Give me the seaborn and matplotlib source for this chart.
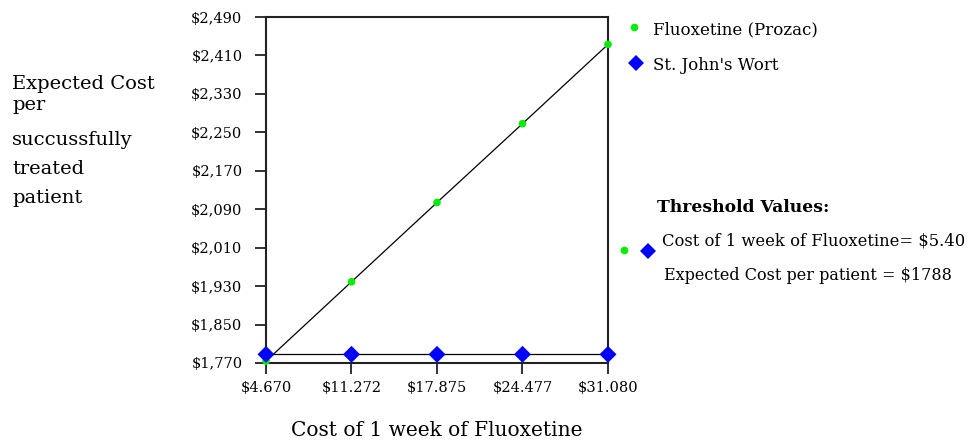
import matplotlib
matplotlib.use("Agg")
import matplotlib.pyplot as plt
import seaborn as sns
import pandas as pd
from matplotlib.lines import Line2D

# Data
cost_week = [4.670, 11.272, 17.875, 24.477, 31.080]
x_tick_labels = ["$4.670", "$11.272", "$17.875", "$24.477", "$31.080"]
fluoxetine_cost = [1774, 1939, 2104, 2268, 2433]
sjw_cost = [1788, 1788, 1788, 1788, 1788]
y_ticks = [1770, 1850, 1930, 2010, 2090, 2170, 2250, 2330, 2410, 2490]
y_tick_labels = ["$1,770", "$1,850", "$1,930", "$2,010", "$2,090", "$2,170",
                 "$2,250", "$2,330", "$2,410", "$2,490"]
series_names = ["Fluoxetine (Prozac)", "St. John's Wort"]

df = pd.DataFrame({
    "x": cost_week * 2,
    "y": fluoxetine_cost + sjw_cost,
    "series": [series_names[0]] * 5 + [series_names[1]] * 5,
})

sns.set_theme(style="white")
plt.rcParams["font.family"] = ["DejaVu Serif"]
plt.rcParams["text.color"] = "black"
plt.rcParams["xtick.color"] = "black"
plt.rcParams["ytick.color"] = "black"

W, H = 979, 441
fig = plt.figure(figsize=(W / 100, H / 100), dpi=100)
ax = fig.add_axes([266 / W, 1 - 363 / H, (608 - 266) / W, (363 - 17) / H])

green = "#00ee00"
blue = "#0000ff"

for name in series_names:
    sub = df[df.series == name]
    sns.lineplot(data=sub, x="x", y="y", ax=ax, color="black", linewidth=0.9,
                 legend=False, zorder=2)
sns.scatterplot(data=df[df.series == series_names[0]], x="x", y="y", ax=ax,
                color=green, s=30, marker="o", edgecolor="none", zorder=3,
                clip_on=False, legend=False)
sns.scatterplot(data=df[df.series == series_names[1]], x="x", y="y", ax=ax,
                color=blue, s=75, marker="D", edgecolor="none", zorder=4,
                clip_on=False, legend=False)

ax.set_xlim(cost_week[0], cost_week[-1])
ax.set_ylim(y_ticks[0], y_ticks[-1])
ax.set_xticks(cost_week)
ax.set_xticklabels(x_tick_labels)
ax.set_yticks(y_ticks)
ax.set_yticklabels(y_tick_labels)
ax.tick_params(axis="both", direction="out", length=8, width=1.3, color="#222222",
               labelsize=10.5, bottom=True, left=True, labelcolor="black")
ax.tick_params(axis="x", pad=5)
ax.tick_params(axis="y", pad=9)
for sp in ax.spines.values():
    sp.set_color("#222222")
    sp.set_linewidth(1.5)
ax.set_xlabel("")
ax.set_ylabel("")
ax.grid(False)

# x-axis title
fig.text(437 / W, 1 - 430 / H, "Cost of 1 week of Fluoxetine", ha="center", va="center",
         fontsize=14.5)

# y-axis title (multi-line)
ylab_lines = ["Expected Cost", "per", "succussfully", "treated", "patient"]
ylab_y = [84, 105, 140, 169, 198]
for t, yy in zip(ylab_lines, ylab_y):
    fig.text(12 / W, 1 - yy / H, t, ha="left", va="center", fontsize=14)

# legend
def fig_marker(px, py, marker, color, size):
    fig.add_artist(Line2D([px / W], [1 - py / H], marker=marker, color=color,
                          markersize=size, markeredgewidth=0, linestyle="none",
                          transform=fig.transFigure))

fig_marker(634, 27, "o", green, 5.5)
fig.text(653 / W, 1 - 30 / H, series_names[0], ha="left", va="center", fontsize=12)
fig_marker(636, 63, "D", blue, 8)
fig.text(653 / W, 1 - 65 / H, series_names[1], ha="left", va="center", fontsize=12)

# threshold box
fig.text(657 / W, 1 - 207 / H, "Threshold Values:", ha="left", va="center",
         fontsize=12.3, fontweight="bold")
fig_marker(624, 250, "o", green, 5.5)
fig_marker(648, 251, "D", blue, 8)
fig.text(662 / W, 1 - 241 / H, "Cost of 1 week of Fluoxetine= $5.40", ha="left",
         va="center", fontsize=11.8)
fig.text(664 / W, 1 - 276 / H, "Expected Cost per patient = $1788", ha="left",
         va="center", fontsize=11.5)

fig.savefig("out.png", dpi=100)
